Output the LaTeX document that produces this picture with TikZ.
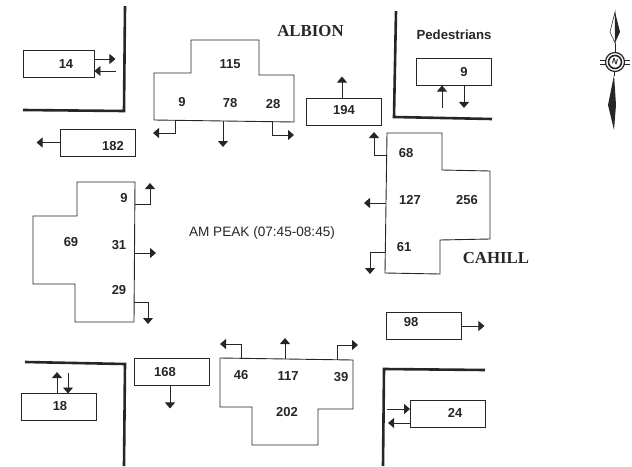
\documentclass[tikz,border=0pt]{standalone}
\usepackage{fontspec}
\setmainfont{Liberation Sans}
\newfontfamily\roadfont{Liberation Serif}
\usetikzlibrary{positioning, arrows.meta}
\definecolor{InkA}{HTML}{262626}
\tikzset{
  flowbox/.style={draw=InkA, line width=0.9pt, minimum width=75pt, minimum height=27pt, inner sep=0pt},
  count/.style={font=\fontsize{13}{13}\selectfont\bfseries, text=InkA, inner sep=0pt},
  road/.style={font=\fontsize{16.8}{16.8}\selectfont\roadfont\bfseries, text=InkA, inner sep=0pt},
  turn/.style={draw=InkA, line width=0.9pt},
  kerb/.style={draw=InkA, line width=2.6pt},
  arr/.style={-{Triangle[width=10pt,length=6pt]}, draw=InkA, line width=0.9pt}
}

\begin{document}
\begin{tikzpicture}[x=1pt, y=-1pt]
  \useasboundingbox (0,0) rectangle (632,466);

  % kerbs
  \draw[kerb] (125,6) -- (124,111) -- (23,110);
  \draw[kerb] (396,11) -- (394,117) -- (492,119);
  \draw[kerb] (25,362) -- (125,364) -- (124,466);
  \draw[kerb] (485,370) -- (384,369) -- (383,466);

  % turning count outlines
  \draw[turn] (191,40) -- (259,40) -- (259,75) -- (294,75) -- (294,122) -- (154,120) -- (154,73) -- (191,73) -- cycle;
  \draw[turn] (77,182) -- (135,182) -- (134,322) -- (75,322) -- (75,284) -- (33,284) -- (33,216) -- (77,216) -- cycle;
  \draw[turn] (387,133) -- (442,133) -- (442,170) -- (490,171) -- (490,239) -- (440,240) -- (440,274) -- (385,273) -- cycle;
  \draw[turn] (220,358) -- (353,360) -- (353,409) -- (318,409) -- (318,445) -- (252,445) -- (252,407) -- (220,407) -- cycle;

  % link boxes
  \node[flowbox, minimum width=71pt] (b14) at (58.5,63.5) {};
  \node[flowbox] (b182) at (97.5,142.5) {};
  \node[flowbox] (b194) at (343.5,111.5) {};
  \node[flowbox] (bped) at (454,72) {};
  \node[flowbox] (b98) at (423.5,326) {};
  \node[flowbox] (b24) at (448,413.5) {};
  \node[flowbox] (b168) at (171.5,371.5) {};
  \node[flowbox] (b18) at (58.5,407) {};

  % numbers
  \node[count] (n14) at (66,64) {14};
  \node[count] (n182) at (113,146) {182};
  \node[count] (n194) at (344,110) {194};
  \node[count] (nped) at (464,72) {9};
  \node[count] (n98) at (411,322) {98};
  \node[count] (n24) at (455,413) {24};
  \node[count] (n168) at (165,372) {168};
  \node[count] (n18) at (60,406) {18};
  \node[count] (t115) at (230,64) {115};
  \node[count] (t9) at (182,102) {9};
  \node[count] (t78) at (230,103) {78};
  \node[count] (t28) at (273,104) {28};
  \node[count] (l9) at (124,198) {9};
  \node[count] (l69) at (71,242) {69};
  \node[count] (l31) at (119,245) {31};
  \node[count] (l29) at (119,290) {29};
  \node[count] (r68) at (406,153) {68};
  \node[count] (r127) at (410,200) {127};
  \node[count] (r256) at (467,200) {256};
  \node[count] (r61) at (404,247) {61};
  \node[count] (d46) at (241,375) {46};
  \node[count] (d117) at (288,376) {117};
  \node[count] (d39) at (341,377) {39};
  \node[count] (d202) at (287,412) {202};

  % titles
  \node[road] (albion) at (310.5,31) {ALBION};
  \node[road] (cahill) at (496,258) {CAHILL};
  \node[font=\fontsize{13.2}{13.2}\selectfont\bfseries, text=InkA, inner sep=0pt] (ped) at (454,35) {Pedestrians};
  \node[font=\fontsize{13.6}{13.6}\selectfont, text=InkA, inner sep=0pt] (peak) at (262,233) {AM PEAK (07:45-08:45)};

  % link arrows
  \draw[arr] (b14.east |- 0,59) -- ++(21,0);
  \draw[arr] (116,71) -- (b14.east |- 0,71);
  \draw[arr] (b182.west) -- ++(-23,0);
  \draw[arr] (b194.north -| 342,0) -- ++(0,-21);
  \draw[arr] (442,108) -- (442,85.5);
  \draw[arr] (bped.south -| 464,0) -- ++(0,22);
  \draw[arr] (b98.east) -- ++(23,0);
  \draw[arr] (387,409) -- (b24.west |- 0,409);
  \draw[arr] (b24.west |- 0,423) -- ++(-22,0);
  \draw[arr] (b168.south -| 170,0) -- ++(0,23);
  \draw[arr] (b18.north -| 57,0) -- ++(0,-21);
  \draw[arr] (68,373) -- (68,393.5);

  % turning arrows
  \draw[arr] (175,120.5) -- (175,133) -- (153,133);
  \draw[arr] (223,121) -- (223,147);
  \draw[arr] (272,121.5) -- (272,135) -- (294,135);
  \draw[arr] (135,204) -- (150,204) -- (150,183);
  \draw[arr] (134,253) -- (156,253);
  \draw[arr] (134,302) -- (148,302) -- (148,324);
  \draw[arr] (386,155) -- (374,155) -- (374,132);
  \draw[arr] (386,203) -- (364,203);
  \draw[arr] (385,252) -- (370,252) -- (370,274);
  \draw[arr] (241,358) -- (241,344) -- (220,344);
  \draw[arr] (285,358.5) -- (285,338);
  \draw[arr] (337,359.5) -- (337,345) -- (358,345);

  % compass
  \draw[InkA, line width=0.5pt, fill=white] (615,12) -- (610,32) -- (615,43) -- cycle;
  \fill[InkA] (615,12) -- (620,32) -- (615,43) -- cycle;
  \fill[InkA] (614,75) -- (608,105) -- (614,130) -- (616,105) -- cycle;
  \draw[InkA, line width=0.7pt] (615,43) -- (615,52) (614,72) -- (614,76);
  \draw[InkA, line width=0.7pt] (600,60) -- (606,60) (600,64) -- (606,64) (624,60) -- (630,60) (624,64) -- (630,64);
  \draw[InkA, line width=1.2pt, fill=white] (615,62) circle (9.5);
  \draw[InkA, line width=1.6pt] (615,62) circle (6.5);
  \node[font=\fontsize{8}{8}\selectfont\bfseries, text=InkA, inner sep=0pt, rotate=-15] (north) at (615,62) {N};
\end{tikzpicture}
\end{document}
